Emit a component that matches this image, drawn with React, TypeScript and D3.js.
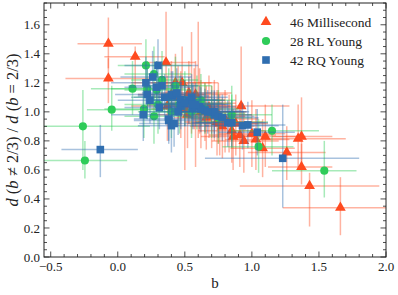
import React, { useEffect, useRef } from 'react';
import * as d3 from 'd3';

// [x, y, xLow, xHigh, yLow, yHigh]
type Pt = [number, number, number, number, number, number];

const millisecond: Pt[] = [
  [-0.07, 1.47, -0.3, 0.18, 1.3, 1.65],
  [-0.07, 1.23, -0.39, 0.24, 1.06, 1.37],
  [0.13, 1.38, -0.1, 0.35, 1.17, 1.45],
  [0.36, 1.34, 0.2, 0.58, 1.08, 1.69],
  [0.43, 1.2, 0.1, 0.7, 1.02, 1.4],
  [0.48, 1.2, 0.25, 0.75, 0.98, 1.45],
  [0.53, 1.13, 0.3, 0.85, 0.92, 1.35],
  [0.37, 1.04, 0.1, 0.62, 0.8, 1.25],
  [0.5, 1.02, 0.25, 0.78, 0.6, 1.22],
  [0.61, 1.06, 0.35, 0.88, 0.85, 1.3],
  [0.74, 0.93, 0.5, 1.0, 0.7, 1.15],
  [0.92, 1.04, 0.7, 1.28, 0.8, 1.45],
  [0.76, 0.92, 0.52, 1.05, 0.7, 1.12],
  [0.85, 0.87, 0.6, 1.1, 0.65, 1.05],
  [0.86, 0.83, 0.62, 1.12, 0.6, 1.02],
  [0.91, 0.84, 0.68, 1.18, 0.62, 1.05],
  [0.94, 0.8, 0.7, 1.2, 0.58, 1.0],
  [1.0, 0.85, 0.75, 1.25, 0.62, 1.08],
  [1.03, 0.81, 0.8, 1.28, 0.6, 1.02],
  [1.1, 0.83, 0.85, 1.4, 0.62, 1.05],
  [1.08, 0.75, 0.84, 1.32, 0.55, 0.95],
  [1.345, 0.815, 1.1, 1.7, 0.6, 1.05],
  [1.37, 0.83, 1.15, 1.6, 0.65, 1.1],
  [1.26, 0.72, 0.97, 1.55, 0.53, 0.9],
  [1.37, 0.62, 1.12, 1.6, 0.5, 0.78],
  [1.43, 0.49, 0.91, 1.95, 0.21, 0.58],
  [1.66, 0.34, 1.23, 2.05, 0.15, 0.55],
  [0.55, 1.05, 0.3, 0.8, 0.85, 1.55],
  [0.65, 1.0, 0.4, 0.9, 0.8, 1.2],
  [0.7, 0.97, 0.45, 0.95, 0.75, 1.18],
  [0.45, 1.1, 0.2, 0.7, 0.9, 1.32],
  [0.58, 1.12, 0.32, 0.82, 0.62, 1.35],
  [0.62, 1.0, 0.38, 0.88, 0.75, 1.22],
  [0.8, 0.95, 0.55, 1.05, 0.72, 1.15],
  [0.68, 1.03, 0.42, 0.92, 0.82, 1.25],
  [0.52, 0.98, 0.28, 0.75, 0.75, 1.2],
  [0.4, 1.12, 0.15, 0.65, 0.9, 1.35],
  [0.75, 0.98, 0.5, 1.0, 0.78, 1.2],
  [0.83, 0.93, 0.58, 1.08, 0.72, 1.12],
  [0.57, 1.08, 0.33, 0.8, 0.88, 1.3],
  [0.47, 1.05, 0.22, 0.72, 0.82, 1.28],
  [0.88, 0.92, 0.64, 1.12, 0.7, 1.12],
  [0.66, 0.96, 0.42, 0.9, 0.74, 1.18],
  [0.72, 1.0, 0.48, 0.96, 0.8, 1.22],
  [0.6, 1.04, 0.36, 0.84, 0.82, 1.62],
  [0.78, 0.9, 0.54, 1.02, 0.68, 1.1],
];

const rlYoung: Pt[] = [
  [-0.26, 0.9, -0.6, 0.24, 0.6, 1.15],
  [-0.245, 0.665, -0.6, 0.07, 0.54, 0.8],
  [-0.045, 1.015, -0.23, 0.35, 0.87, 1.18],
  [0.11, 1.16, -0.2, 0.45, 0.98, 1.35],
  [0.21, 1.32, 0.0, 0.55, 1.1, 1.5],
  [0.27, 1.26, 0.05, 0.55, 1.05, 1.45],
  [0.33, 1.22, 0.1, 0.6, 1.0, 1.42],
  [0.195, 1.02, -0.1, 0.5, 0.82, 1.2],
  [0.27, 0.97, 0.05, 0.6, 0.78, 1.15],
  [0.43, 1.18, 0.2, 0.7, 0.98, 1.38],
  [0.22, 1.16, -0.05, 0.5, 0.95, 1.35],
  [0.46, 1.05, 0.22, 0.75, 0.85, 1.25],
  [0.59, 1.06, 0.35, 0.85, 0.88, 1.25],
  [0.85, 0.98, 0.6, 1.15, 0.8, 1.18],
  [0.85, 0.93, 0.6, 1.12, 0.75, 1.12],
  [1.15, 0.87, 0.85, 1.5, 0.7, 1.05],
  [1.05, 0.76, 0.78, 1.31, 0.58, 0.95],
  [1.54, 0.595, 1.15, 1.78, 0.41, 0.8],
  [0.29, 1.15, 0.05, 0.55, 0.95, 1.35],
  [0.5, 1.08, 0.25, 0.78, 0.9, 1.28],
  [0.55, 1.0, 0.3, 0.82, 0.82, 1.2],
  [0.38, 1.1, 0.12, 0.65, 0.9, 1.3],
  [0.65, 1.02, 0.4, 0.9, 0.85, 1.2],
  [0.7, 0.99, 0.45, 0.95, 0.82, 1.18],
  [0.62, 1.08, 0.38, 0.88, 0.9, 1.26],
  [0.75, 0.96, 0.5, 1.0, 0.78, 1.15],
  [0.4, 1.0, 0.15, 0.68, 0.82, 1.2],
  [0.3, 1.05, 0.05, 0.58, 0.85, 1.25],
];

const rqYoung: Pt[] = [
  [0.3, 1.32, 0.05, 0.6, 1.15, 1.5],
  [0.26, 1.24, 0.02, 0.55, 1.08, 1.42],
  [0.21, 1.2, -0.05, 0.48, 1.05, 1.38],
  [0.22, 1.12, -0.02, 0.5, 0.95, 1.3],
  [0.24, 1.08, 0.0, 0.52, 0.92, 1.25],
  [0.33, 1.18, 0.08, 0.6, 1.02, 1.35],
  [0.29, 1.17, 0.05, 0.55, 1.0, 1.35],
  [0.31, 1.03, 0.05, 0.58, 0.88, 1.2],
  [0.19, 0.98, -0.05, 0.45, 0.8, 1.15],
  [0.38, 0.94, 0.12, 0.65, 0.78, 1.1],
  [0.4, 0.905, 0.15, 0.68, 0.72, 1.08],
  [0.41, 1.11, 0.15, 0.68, 0.95, 1.28],
  [0.47, 1.085, 0.22, 0.75, 0.92, 1.25],
  [0.47, 1.04, 0.22, 0.75, 0.88, 1.2],
  [0.55, 1.1, 0.3, 0.82, 0.95, 1.26],
  [0.56, 1.03, 0.3, 0.82, 0.88, 1.18],
  [-0.13, 0.74, -0.42, 0.15, 0.55, 0.91],
  [0.61, 1.035, 0.36, 0.88, 0.88, 1.18],
  [0.72, 0.98, 0.45, 1.0, 0.82, 1.14],
  [0.82, 0.925, 0.55, 1.1, 0.76, 1.08],
  [0.85, 0.925, 0.58, 1.12, 0.76, 1.08],
  [0.93, 0.905, 0.65, 1.2, 0.74, 1.06],
  [0.97, 0.91, 0.7, 1.25, 0.75, 1.07],
  [1.04, 0.86, 0.75, 1.32, 0.7, 1.02],
  [1.23, 0.68, 0.65, 1.8, 0.34, 1.05],
  [0.4, 1.12, 0.15, 0.66, 0.96, 1.28],
  [0.53, 1.08, 0.28, 0.8, 0.92, 1.24],
  [0.56, 1.05, 0.3, 0.82, 0.9, 1.2],
  [0.62, 1.02, 0.36, 0.88, 0.86, 1.17],
  [0.7, 1.0, 0.44, 0.96, 0.85, 1.15],
  [0.72, 1.0, 0.46, 0.98, 0.85, 1.15],
  [0.38, 0.95, 0.12, 0.64, 0.8, 1.1],
  [0.42, 0.92, 0.16, 0.7, 0.76, 1.08],
  [0.45, 1.0, 0.2, 0.72, 0.84, 1.16],
  [0.5, 1.06, 0.25, 0.78, 0.9, 1.22],
  [0.58, 1.05, 0.32, 0.85, 0.9, 1.2],
  [0.65, 1.01, 0.4, 0.92, 0.86, 1.16],
  [0.67, 1.0, 0.42, 0.94, 0.85, 1.15],
  [0.75, 0.97, 0.5, 1.02, 0.82, 1.12],
  [0.78, 0.96, 0.52, 1.05, 0.8, 1.12],
  [0.44, 1.13, 0.18, 0.7, 0.97, 1.3],
  [0.35, 1.1, 0.1, 0.62, 0.94, 1.26],
];

const seriesLabels = ['46 Millisecond', '28 RL Young', '42 RQ Young'];
const xTicks = [-0.5, 0.0, 0.5, 1.0, 1.5, 2.0];
const yTicks = [0.0, 0.2, 0.4, 0.6, 0.8, 1.0, 1.2, 1.4, 1.6];

const W = 398;
const H = 295;
const FONT = '"Liberation Serif", "DejaVu Serif", serif';

const App: React.FC = () => {
  const svgRef = useRef<SVGSVGElement>(null);

  useEffect(() => {
    if (!svgRef.current) return;
    const svg = d3.select(svgRef.current);
    svg.selectAll('*').remove();

    const left = 44, right = 386, top = 3, bottom = 257;
    const x = d3.scaleLinear().domain([-0.55, 2.0]).range([left, right]);
    const y = d3.scaleLinear().domain([0, 1.75]).range([bottom, top]);

    svg.append('defs').append('clipPath').attr('id', 'plotclip')
      .append('rect').attr('x', left).attr('y', top)
      .attr('width', right - left).attr('height', bottom - top);

    const plot = svg.append('g').attr('clip-path', 'url(#plotclip)');

    const series = [
      { data: millisecond, color: '#ff4a1f', shape: d3.symbolTriangle, size: 50 },
      { data: rlYoung, color: '#2ecc59', shape: d3.symbolCircle, size: 52 },
      { data: rqYoung, color: '#2f6eb0', shape: d3.symbolSquare, size: 58 },
    ];

    series.forEach(s => {
      const g = plot.append('g');
      // error bars
      g.selectAll('line.xe').data(s.data).enter().append('line')
        .attr('x1', d => x(d[2])).attr('x2', d => x(d[3]))
        .attr('y1', d => y(d[1])).attr('y2', d => y(d[1]))
        .attr('stroke', s.color).attr('stroke-opacity', 0.42).attr('stroke-width', 1.5);
      g.selectAll('line.ye').data(s.data).enter().append('line')
        .attr('x1', d => x(d[0])).attr('x2', d => x(d[0]))
        .attr('y1', d => y(d[4])).attr('y2', d => y(d[5]))
        .attr('stroke', s.color).attr('stroke-opacity', 0.42).attr('stroke-width', 1.5);
      // markers
      g.selectAll('path.m').data(s.data).enter().append('path')
        .attr('d', d3.symbol().type(s.shape).size(s.size)())
        .attr('transform', d => `translate(${x(d[0])},${y(d[1])})`)
        .attr('fill', s.color);
    });

    // frame
    svg.append('rect').attr('x', left).attr('y', top)
      .attr('width', right - left).attr('height', bottom - top)
      .attr('fill', 'none').attr('stroke', '#222').attr('stroke-width', 1);

    // ticks (inward, all sides)
    const tg = svg.append('g').attr('stroke', '#222').attr('stroke-width', 0.8);
    const xMinor = d3.range(-5, 21).map(i => i / 10);
    const yMinor = d3.range(0, 36).map(i => i * 0.05);
    xMinor.forEach(v => {
      const major = xTicks.some(t => Math.abs(t - v) < 1e-6);
      const len = major ? 5.5 : 3;
      tg.append('line').attr('x1', x(v)).attr('x2', x(v)).attr('y1', bottom).attr('y2', bottom - len);
      tg.append('line').attr('x1', x(v)).attr('x2', x(v)).attr('y1', top).attr('y2', top + len);
    });
    yMinor.forEach(v => {
      if (y(v) < top - 0.5) return;
      const major = yTicks.some(t => Math.abs(t - v) < 1e-6);
      const len = major ? 5.5 : 3;
      tg.append('line').attr('y1', y(v)).attr('y2', y(v)).attr('x1', left).attr('x2', left + len);
      tg.append('line').attr('y1', y(v)).attr('y2', y(v)).attr('x1', right).attr('x2', right - len);
    });

    const fmt = (v: number) => (v < 0 ? '\u2212' : '') + Math.abs(v).toFixed(1);
    svg.append('g').selectAll('text').data(xTicks).enter().append('text')
      .attr('x', d => x(d)).attr('y', bottom + 14)
      .attr('text-anchor', 'middle').attr('font-family', FONT).attr('font-size', 13)
      .attr('fill', '#222').text(fmt);
    svg.append('g').selectAll('text').data(yTicks).enter().append('text')
      .attr('x', left - 4).attr('y', d => y(d)).attr('dy', '0.35em')
      .attr('text-anchor', 'end').attr('font-family', FONT).attr('font-size', 13)
      .attr('fill', '#222').text(fmt);

    // axis labels
    svg.append('text').attr('x', (left + right) / 2).attr('y', 288)
      .attr('text-anchor', 'middle').attr('font-family', FONT).attr('font-size', 15)
      .attr('fill', '#222').text('b');

    const yl = svg.append('text')
      .attr('transform', `translate(18,${(top + bottom) / 2}) rotate(-90)`)
      .attr('text-anchor', 'middle').attr('font-family', FONT).attr('font-size', 16.5)
      .attr('fill', '#222');
    const parts: [string, boolean][] = [
      ['d', true], [' (', false], ['b', true], [' \u2260 2/3) / ', false],
      ['d', true], [' (', false], ['b', true], [' = 2/3)', false],
    ];
    parts.forEach(([t, it]) => {
      yl.append('tspan').attr('font-style', it ? 'italic' : 'normal').text(t);
    });

    // legend
    const lg = svg.append('g');
    series.forEach((s, i) => {
      const ly = 22 + i * 19;
      lg.append('path')
        .attr('d', d3.symbol().type(s.shape).size(s.size)())
        .attr('transform', `translate(266,${ly})`)
        .attr('fill', s.color);
      lg.append('text').attr('x', 290).attr('y', ly).attr('dy', '0.35em')
        .attr('font-family', FONT).attr('font-size', 13.5).attr('fill', '#222')
        .text(seriesLabels[i]);
    });
  }, []);

  return (
    <svg ref={svgRef} width={W} height={H}
      style={{ position: 'absolute', left: 0, top: 0, background: '#fff' }} />
  );
};

export default App;
